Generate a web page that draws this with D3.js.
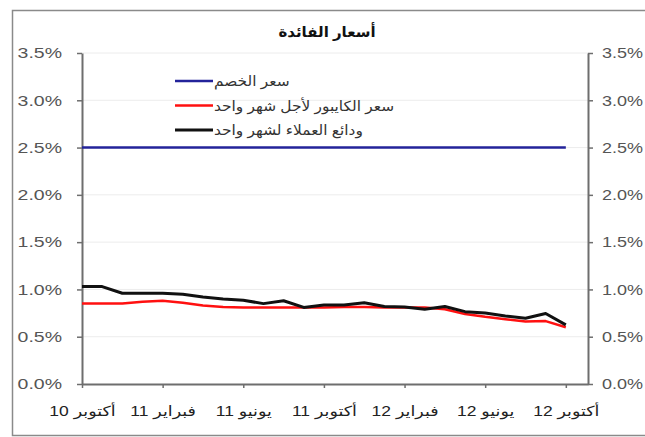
<!DOCTYPE html>
<html>
<head>
<meta charset="utf-8">
<script src="https://cdn.jsdelivr.net/npm/d3@7"></script>
<style>
  body { margin: 0; background: #fff; }
  svg { display: block; }
  text { font-family: "Liberation Sans", Arial, "DejaVu Sans", sans-serif; }
</style>
</head>
<body>
<svg class="chart" width="645" height="437"></svg>
<script>
/* data: monthly, Oct 2010 .. Oct 2012 */
const months = d3.range(25)
const discountRate = [2.5, 2.5, 2.5, 2.5, 2.5, 2.5, 2.5, 2.5, 2.5, 2.5, 2.5, 2.5, 2.5,
  2.5, 2.5, 2.5, 2.5, 2.5, 2.5, 2.5, 2.5, 2.5, 2.5, 2.5, 2.5]
const kibor1m = [0.85, 0.85, 0.85, 0.87, 0.88, 0.86, 0.83, 0.815, 0.81, 0.81, 0.81, 0.81, 0.81,
  0.815, 0.815, 0.81, 0.81, 0.81, 0.79, 0.74, 0.71, 0.685, 0.66, 0.665, 0.60]
const deposits1m = [1.03, 1.03, 0.96, 0.96, 0.96, 0.95, 0.92, 0.90, 0.885, 0.85, 0.88, 0.81, 0.835,
  0.835, 0.86, 0.82, 0.815, 0.79, 0.82, 0.765, 0.75, 0.72, 0.695, 0.745, 0.625]
const xTickMonths = [0, 4, 8, 12, 16, 20, 24]
const xTickLabels = ["أكتوبر 10", "فبراير 11", "يونيو 11", "أكتوبر 11", "فبراير 12", "يونيو 12", "أكتوبر 12"]
const yTicks = [0, 0.5, 1, 1.5, 2, 2.5, 3, 3.5]
const seriesNames = ["سعر الخصم", "سعر الكايبور لأجل شهر واحد", "ودائع العملاء لشهر واحد"]
const seriesColors = ["#23239a", "#ff1010", "#111111"]
const title = "أسعار الفائدة"

const margin = {top: 53, right: 57, bottom: 53, left: 82},
    width = 645 - margin.left - margin.right,
    height = 437 - margin.top - margin.bottom

const x = d3.scaleLinear().domain([0, 25.1]).range([0, width])
const y = d3.scaleLinear().domain([0, 3.5]).range([height, 0])

const svg = d3.select("svg.chart")

// outer frame
svg.append("rect")
    .attr("x", 12.5).attr("y", 10.5)
    .attr("width", 660).attr("height", 425)
    .attr("fill", "none")
    .attr("stroke", "#8a8a8a")
    .attr("stroke-width", 1.5)

svg.append("text")
    .attr("x", 327).attr("y", 37)
    .attr("text-anchor", "middle")
    .attr("font-size", 15)
    .attr("font-weight", "bold")
    .attr("fill", "#111")
    .text(title)

const chart = svg.append("g")
    .attr("transform", "translate(" + margin.left + "," + margin.top + ")")

// gridlines
chart.selectAll("line.grid")
    .data(yTicks.slice(1))
    .enter()
    .append("line")
    .attr("class", "grid")
    .attr("x1", 0).attr("x2", width)
    .attr("y1", d => y(d)).attr("y2", d => y(d))
    .attr("stroke", "#ececec")
    .attr("stroke-width", 1)

const fmt = d => d.toFixed(1) + "%"
const styleAxis = (g) => {
    g.select(".domain").attr("stroke", "#6e6e6e").attr("stroke-width", 2)
    g.selectAll(".tick line").attr("stroke", "#6e6e6e").attr("stroke-width", 1.5)
    g.selectAll(".tick text").attr("fill", "#555").attr("font-size", 15)
}

const yLeft = chart.append("g")
    .call(d3.axisLeft(y).tickValues(yTicks).tickFormat(fmt).tickSize(5).tickSizeOuter(0).tickPadding(0))
styleAxis(yLeft)
yLeft.selectAll(".tick text")
    .attr("x", 0).attr("text-anchor", "end")
    .attr("transform", "translate(-20,0) scale(1.3,1)")

const yRight = chart.append("g")
    .attr("transform", "translate(" + width + ",0)")
    .call(d3.axisRight(y).tickValues(yTicks).tickFormat(fmt).tickSize(5).tickSizeOuter(0).tickPadding(0))
styleAxis(yRight)
yRight.selectAll(".tick text")
    .attr("x", 0).attr("text-anchor", "start")
    .attr("transform", "translate(14,0) scale(1.2,1)")

const xAxis = chart.append("g")
    .attr("transform", "translate(0," + height + ")")
    .call(d3.axisBottom(x).tickValues(xTickMonths).tickFormat((d, i) => xTickLabels[i]).tickSize(4).tickSizeOuter(0).tickPadding(0))
styleAxis(xAxis)
xAxis.selectAll(".tick text")
    .attr("y", 0).attr("dy", 0)
    .attr("fill", "#222")
    .attr("font-size", 14)
    .attr("transform", "translate(0,32) scale(1.25,1)")

// lines
const line = d3.line().x((d, i) => x(months[i])).y(d => y(d))
const series = [discountRate, kibor1m, deposits1m]
const widths = [2.5, 2.5, 3]

chart.selectAll("path.series")
    .data(series)
    .enter()
    .append("path")
    .attr("class", "series")
    .attr("d", line)
    .attr("fill", "none")
    .attr("stroke", (d, i) => seriesColors[i])
    .attr("stroke-width", (d, i) => widths[i])
    .attr("stroke-linejoin", "round")

// legend
const legend = svg.selectAll("g.legend")
    .data(seriesNames)
    .enter()
    .append("g")
    .attr("class", "legend")
    .attr("transform", (d, i) => "translate(175," + (81 + i * 24.5) + ")")

legend.append("line")
    .attr("x1", 0).attr("x2", 38)
    .attr("stroke", (d, i) => seriesColors[i])
    .attr("stroke-width", (d, i) => widths[i])

legend.append("text")
    .attr("x", 0).attr("y", 0)
    .attr("font-size", 14)
    .attr("fill", "#333")
    .attr("text-anchor", "start")
    .attr("transform", "translate(39,5) scale(1.1,1)")
    .text(d => d)
</script>
</body>
</html>
